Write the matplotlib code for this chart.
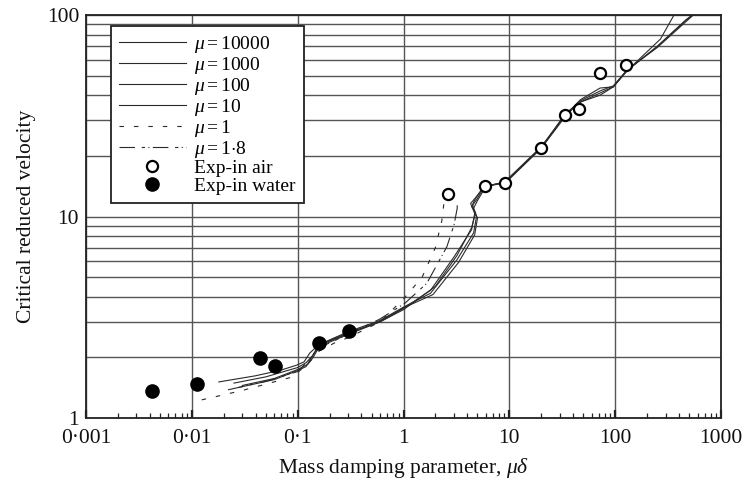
import matplotlib
matplotlib.use("Agg")
import matplotlib.pyplot as plt
from matplotlib.ticker import FixedLocator, FixedFormatter, LogLocator

plt.rcParams['font.family'] = ['Liberation Serif', 'DejaVu Serif']
plt.rcParams['mathtext.fontset'] = 'custom'
plt.rcParams['mathtext.it'] = 'Liberation Serif:italic'
plt.rcParams['mathtext.rm'] = 'Liberation Serif'

# ---------------- data ----------------
mu10000_x = [0.018, 0.04, 0.07, 0.098, 0.115, 0.13, 0.15, 0.17, 0.3, 0.6, 1.0, 1.8, 3.2, 4.6, 4.9, 4.4, 4.9, 5.9, 9.1, 20, 34, 47, 72, 96, 130, 250, 470, 620]
mu10000_y = [1.51, 1.62, 1.73, 1.83, 1.9, 2.1, 2.25, 2.35, 2.68, 3.05, 3.55, 4.16, 6.1, 8.3, 10.0, 11.2, 12.1, 14.2, 14.7, 21.9, 32, 38, 43.4, 44, 53.3, 69.6, 94.4, 106]

mu1000_x = [0.025, 0.05, 0.1, 0.12, 0.14, 0.16, 0.3, 0.6, 1.0, 1.8, 3.0, 4.4, 4.7, 4.5, 4.8, 5.7, 9.0, 20, 34, 47, 72, 96, 130, 268, 383]
mu1000_y = [1.49, 1.6, 1.78, 1.88, 2.05, 2.3, 2.65, 3.0, 3.5, 4.3, 6.3, 8.6, 10.3, 11.5, 12.3, 14.0, 14.8, 22.0, 32.5, 37, 40, 44, 53, 76, 106]

mu100_x = [0.03, 0.06, 0.1, 0.125, 0.14, 0.165, 0.3, 0.6, 1.0, 1.9, 3.3, 4.7, 5.0, 4.6, 5.0, 6.0, 9.2, 20, 34, 47, 72, 96, 130, 250, 470, 620]
mu100_y = [1.45, 1.57, 1.74, 1.85, 2.0, 2.32, 2.62, 3.02, 3.52, 4.1, 5.9, 8.1, 9.8, 11.0, 12.0, 14.1, 14.7, 21.8, 31.5, 37.5, 42, 44.5, 53.5, 69, 93, 106]

mu10_x = [0.028, 0.06, 0.1, 0.12, 0.135, 0.155, 0.3, 0.6, 1.0, 2.0, 3.2, 4.4, 4.8, 4.3, 4.8, 5.8, 9.0, 20, 34, 47, 72, 96, 130, 250, 470, 620]
mu10_y = [1.42, 1.55, 1.72, 1.8, 2.0, 2.25, 2.6, 3.0, 3.45, 4.5, 6.4, 8.8, 10.4, 11.6, 12.4, 14.1, 14.8, 22.2, 32, 37, 41, 44, 53, 70, 95, 106]

mu1_8_x = [0.022, 0.05, 0.1, 0.13, 0.15, 0.3, 0.6, 1.03, 1.66, 2.57, 3.0, 3.22, 3.2]
mu1_8_y = [1.38, 1.52, 1.7, 1.95, 2.2, 2.6, 3.1, 3.71, 4.66, 7.08, 9.08, 11.0, 12.1]

mu1_x = [0.0124, 0.03, 0.09, 0.13, 0.16, 0.234, 0.3, 0.6, 1.0, 1.5, 2.0, 2.3, 2.45]
mu1_y = [1.23, 1.37, 1.6, 1.9, 2.15, 2.39, 2.5, 3.0, 3.9, 5.0, 7.0, 9.5, 12.5]

air_x = [2.66, 5.9, 9.1, 20, 33.7, 46, 72, 127]
air_y = [12.9, 14.2, 14.7, 21.9, 31.9, 34.0, 51.4, 56.5]

water_x = [0.00418, 0.0111, 0.0442, 0.061, 0.160, 0.308]
water_y = [1.366, 1.47, 1.99, 1.81, 2.36, 2.70]

xticks = [0.001, 0.01, 0.1, 1, 10, 100, 1000]
xticklabels = ['0·001', '0·01', '0·1', '1', '10', '100', '1000']
yticks = [1, 10, 100]
yticklabels = ['1', '10', '100']

# ---------------- figure ----------------
fig = plt.figure(figsize=(7.47, 4.87), dpi=100)
ax = fig.add_axes([86/747, 1-418/487, 635/747, 403/487])
ax.set_xscale('log')
ax.set_yscale('log')
ax.set_xlim(0.001, 1000)
ax.set_ylim(1, 100)

gridc = '#555555'
ax.xaxis.set_major_locator(FixedLocator(xticks))
ax.xaxis.set_major_formatter(FixedFormatter(xticklabels))
ax.xaxis.set_minor_locator(LogLocator(base=10, subs=range(2, 10), numticks=20))
ax.yaxis.set_major_locator(FixedLocator(yticks))
ax.yaxis.set_major_formatter(FixedFormatter(yticklabels))
ax.yaxis.set_minor_locator(LogLocator(base=10, subs=range(2, 10), numticks=20))
ax.grid(True, which='major', axis='both', color=gridc, lw=1.0)
ax.grid(True, which='minor', axis='y', color=gridc, lw=1.0)
ax.set_axisbelow(True)

lc = '#2a2a2a'
lw = 0.8
ax.plot(mu10000_x, mu10000_y, color=lc, lw=lw, label=r'$\mu=10000$')
ax.plot(mu1000_x, mu1000_y, color=lc, lw=lw, label=r'$\mu=1000$')
ax.plot(mu100_x, mu100_y, color=lc, lw=lw, label=r'$\mu=100$')
ax.plot(mu10_x, mu10_y, color=lc, lw=lw, label=r'$\mu=10$')
ax.plot(mu1_x, mu1_y, color=lc, lw=lw, dashes=(4, 9), label=r'$\mu=1$')
ax.plot(mu1_8_x, mu1_8_y, color=lc, lw=lw, dashes=(14, 6, 3, 3, 1, 3), label=r'$\mu=1{\cdot}8$')
ax.plot(air_x, air_y, ls='none', marker='o', ms=8, mfc='white', mec='black', mew=1.6, label='Exp-in air')
ax.plot(water_x, water_y, ls='none', marker='o', ms=9.5, mfc='black', mec='black', label='Exp-in water')

for s in ax.spines.values():
    s.set_color('#222222')
    s.set_linewidth(1.3)

ax.tick_params(axis='x', which='major', direction='in', length=6, width=1.6, colors='#222222',
               labelsize=15.5, pad=8, top=False)
ax.tick_params(axis='x', which='minor', direction='in', length=3.5, width=0.9, colors='#222222', top=False)
ax.tick_params(axis='y', which='both', length=0, labelsize=15.5, pad=5)
ax.tick_params(axis='y', which='minor', labelleft=False)
for lab in ax.get_xticklabels() + ax.get_yticklabels():
    lab.set_color('#111111')

ax.set_xlabel(r'Mass damping parameter, $\mu\delta$', fontsize=15.5, labelpad=6, color='#111111')
ax.set_ylabel('Critical reduced velocity', fontsize=15.5, labelpad=8, color='#111111')

leg = ax.legend(loc='upper left', bbox_to_anchor=(0.039, 0.973), fontsize=14,
                frameon=True, fancybox=False, framealpha=1, edgecolor='#222222',
                handlelength=3.45, handletextpad=0.45, labelspacing=0.0,
                borderpad=0.4, borderaxespad=0)
leg.get_frame().set_linewidth(1.3)

fig.savefig('out.png', dpi=100)
